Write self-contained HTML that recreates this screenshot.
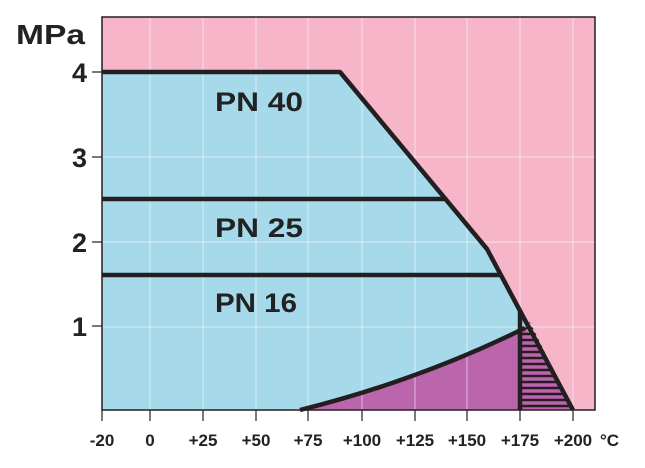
<!DOCTYPE html>
<html><head><style>
body{margin:0;background:#fff;}
svg text{font-family:"Liberation Sans",sans-serif;font-weight:bold;fill:#222;}
</style></head><body>
<svg width="645" height="463" viewBox="0 0 645 463">
<defs>
<clipPath id="hc"><polygon points="520,410 520,330 530,322 573,410"/></clipPath>
</defs>
<rect x="102" y="17" width="493" height="393" fill="#f6b5c8"/>
<polygon points="102,72 340,72 487,249 573,410 102,410" fill="#a6d9ea"/>
<path d="M300,410 Q420,380 525,328 L527,330 L573,410 Z" fill="#bb65ac"/>
<g clip-path="url(#hc)" stroke="#2a1a24" stroke-width="2.5">
<line x1="515" y1="322" x2="580" y2="322"/><line x1="515" y1="328" x2="580" y2="328"/>
<line x1="515" y1="334" x2="580" y2="334"/><line x1="515" y1="340" x2="580" y2="340"/>
<line x1="515" y1="346" x2="580" y2="346"/><line x1="515" y1="352" x2="580" y2="352"/>
<line x1="515" y1="358" x2="580" y2="358"/><line x1="515" y1="364" x2="580" y2="364"/>
<line x1="515" y1="370" x2="580" y2="370"/><line x1="515" y1="376" x2="580" y2="376"/>
<line x1="515" y1="382" x2="580" y2="382"/><line x1="515" y1="388" x2="580" y2="388"/>
<line x1="515" y1="394" x2="580" y2="394"/><line x1="515" y1="400" x2="580" y2="400"/>
<line x1="515" y1="406" x2="580" y2="406"/>
</g>
<g stroke="#fff" stroke-opacity="0.55" stroke-width="1">
<line x1="150" y1="17" x2="150" y2="410"/><line x1="203" y1="17" x2="203" y2="410"/>
<line x1="256" y1="17" x2="256" y2="410"/><line x1="308" y1="17" x2="308" y2="410"/>
<line x1="362" y1="17" x2="362" y2="410"/><line x1="415" y1="17" x2="415" y2="410"/>
<line x1="467" y1="17" x2="467" y2="410"/><line x1="520" y1="17" x2="520" y2="410"/>
<line x1="573" y1="17" x2="573" y2="410"/>
<line x1="102" y1="157" x2="595" y2="157"/><line x1="102" y1="242" x2="595" y2="242"/>
<line x1="102" y1="327" x2="595" y2="327"/>
</g>
<g stroke="#231f20" stroke-width="4.5" fill="none" stroke-linejoin="round">
<polyline points="102,72 340,72 487,249 573,410"/>
<line x1="102" y1="199" x2="445" y2="199"/>
<line x1="102" y1="275" x2="500" y2="275"/>
<path d="M300,410 Q420,380 525,328"/>
<line x1="520" y1="310" x2="520" y2="410"/>
</g>
<rect x="102" y="17" width="493" height="393" fill="none" stroke="#231f20" stroke-width="1.5"/>
<g stroke="#231f20" stroke-width="1.2">
<line x1="92" y1="72" x2="102" y2="72"/><line x1="92" y1="157" x2="102" y2="157"/>
<line x1="92" y1="242" x2="102" y2="242"/><line x1="92" y1="326" x2="102" y2="326"/>
<line x1="102" y1="410" x2="102" y2="421"/><line x1="150" y1="410" x2="150" y2="421"/>
<line x1="203" y1="410" x2="203" y2="421"/><line x1="256" y1="410" x2="256" y2="421"/>
<line x1="308" y1="410" x2="308" y2="421"/><line x1="362" y1="410" x2="362" y2="421"/>
<line x1="415" y1="410" x2="415" y2="421"/><line x1="467" y1="410" x2="467" y2="421"/>
<line x1="520" y1="410" x2="520" y2="421"/><line x1="573" y1="410" x2="573" y2="421"/>
</g>
<text x="16" y="44" font-size="28" textLength="69" lengthAdjust="spacingAndGlyphs">MPa</text>
<g font-size="27" text-anchor="end">
<text x="87" y="82">4</text><text x="87" y="167">3</text>
<text x="87" y="252">2</text><text x="87" y="336">1</text>
</g>
<g font-size="17" text-anchor="middle">
<text x="102" y="446">-20</text><text x="150" y="446">0</text>
<text x="203" y="446">+25</text><text x="256" y="446">+50</text>
<text x="308" y="446">+75</text><text x="362" y="446">+100</text>
<text x="415" y="446">+125</text><text x="467" y="446">+150</text>
<text x="520" y="446">+175</text><text x="573" y="446">+200</text>
</g>
<text x="600" y="446" font-size="17">°C</text>
<g font-size="27">
<text x="215" y="111" textLength="88" lengthAdjust="spacingAndGlyphs">PN 40</text>
<text x="215" y="237" textLength="88" lengthAdjust="spacingAndGlyphs">PN 25</text>
<text x="215" y="312" textLength="82" lengthAdjust="spacingAndGlyphs">PN 16</text>
</g>
</svg>
</body></html>
